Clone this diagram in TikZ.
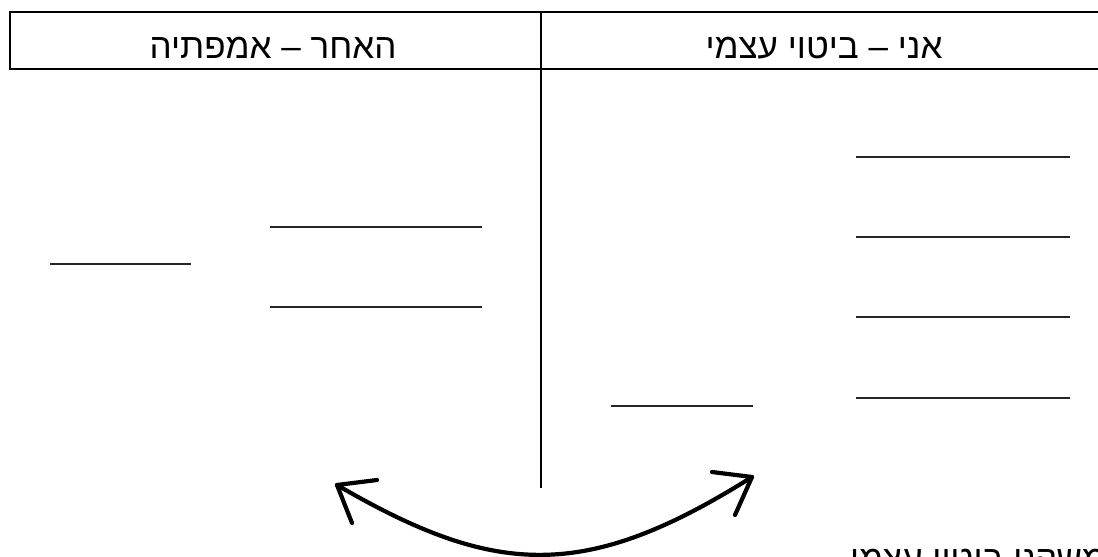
\documentclass[tikz,border=0pt]{standalone}
\usepackage{fontspec}
\newfontfamily\hebfont[Script=Hebrew]{Liberation Sans}
\TeXXeTstate=1
\usetikzlibrary{positioning}
\tikzset{
  heading/.style={font=\hebfont\fontsize{35}{40}\selectfont, anchor=base, inner sep=0pt},
  grid/.style={line width=2.4pt},
  blank/.style={line width=2.2pt, black!85},
  swing/.style={line width=4.2pt, line cap=round, line join=round},
}

\begin{document}
\begin{tikzpicture}[x=1pt, y=-1pt]
  \useasboundingbox (0,0) rectangle (1098,557);
  % table head
  \draw[grid] (1098,12) -- (10,12) -- (10,69) -- (1098,69);
  \draw[grid] (541,12) -- (541,69);
  \draw[line width=1.8pt] (541,69) -- (541,488);
  \node[heading] (other) at (273,58) {\beginR האחר – אמפתיה\endR};
  \node[heading] (self) at (824,58) {\beginR אני – ביטוי עצמי\endR};
  % blanks
  \foreach \y in {157,237,317,398}
    \draw[blank] (856,\y) -- (1070,\y);
  \foreach \y in {227,307}
    \draw[blank] (270,\y) -- (482,\y);
  \draw[blank] (50,264) -- (191,264);
  \draw[blank] (611,406) -- (753,406);
  % two-way arrow
  \coordinate (ltip) at (337,485);
  \coordinate (rtip) at (752,477);
  \draw[swing] (ltip) .. controls (495,577) and (585,582) .. (rtip);
  \draw[swing] (ltip) -- ++(40,-5) (ltip) -- ++(15,38);
  \draw[swing] (rtip) -- ++(-40,-5) (rtip) -- ++(-17,38);
  \node[heading] (note) at (978,570) {\beginR משקני ביטוי עצמי\endR};
\end{tikzpicture}
\end{document}
